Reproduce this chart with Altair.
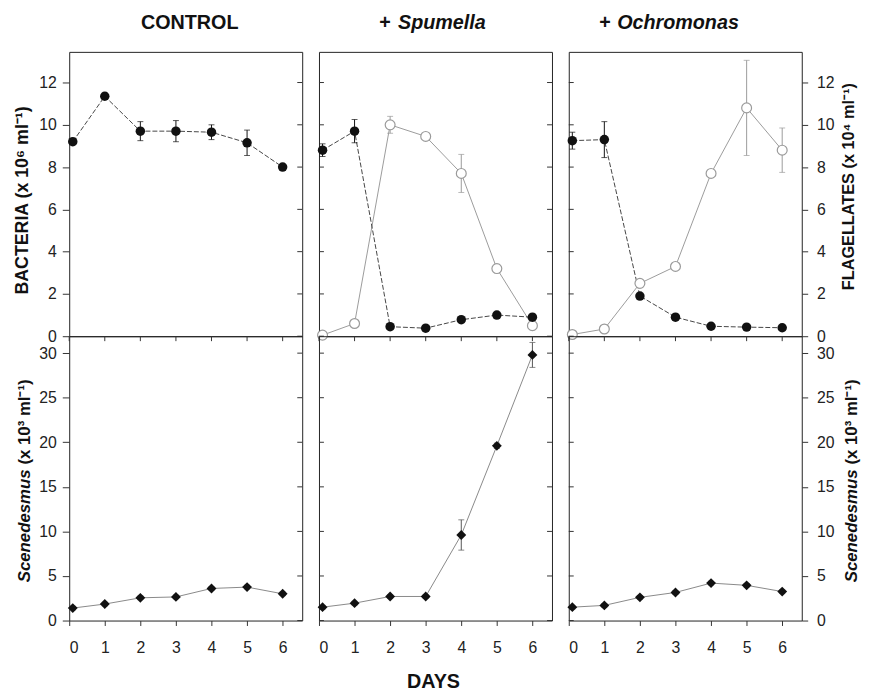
import altair as alt
import pandas as pd

# ---------------- data ----------------
days = [0.1, 1, 2, 3, 4, 5, 6]
day_ticks = [0, 1, 2, 3, 4, 5, 6]
top_ticks = [0, 2, 4, 6, 8, 10, 12]
bottom_ticks = [0, 5, 10, 15, 20, 25, 30]

panel_plus = ["", "+", "+"]
panel_names = ["CONTROL", "Spumella", "Ochromonas"]

bact_control = [9.2, 11.35, 9.7, 9.7, 9.65, 9.15, 8.0]
bact_control_sd = [0.1, 0.15, 0.45, 0.5, 0.35, 0.6, 0.1]
bact_spumella = [8.8, 9.7, 0.45, 0.38, 0.78, 1.0, 0.9]
bact_spumella_sd = [0.3, 0.55, 0.05, 0.05, 0.05, 0.05, 0.05]
bact_ochromonas = [9.25, 9.3, 1.9, 0.9, 0.47, 0.43, 0.4]
bact_ochromonas_sd = [0.4, 0.85, 0.05, 0.05, 0.05, 0.05, 0.05]

flag_spumella = [0.05, 0.6, 10.0, 9.45, 7.7, 3.2, 0.5]
flag_spumella_sd = [0.02, 0.1, 0.4, 0.15, 0.9, 0.2, 0.2]
flag_ochromonas = [0.08, 0.34, 2.5, 3.3, 7.7, 10.8, 8.8]
flag_ochromonas_sd = [0.02, 0.1, 0.15, 0.15, 0.15, 2.25, 1.05]

scen_control = [1.4, 1.85, 2.55, 2.65, 3.6, 3.75, 3.0]
scen_control_sd = [0.2, 0.2, 0.2, 0.2, 0.2, 0.2, 0.2]
scen_spumella = [1.5, 1.95, 2.7, 2.7, 9.6, 19.6, 29.8]
scen_spumella_sd = [0.2, 0.2, 0.2, 0.2, 1.7, 0.3, 1.4]
scen_ochromonas = [1.5, 1.7, 2.6, 3.15, 4.2, 3.95, 3.25]
scen_ochromonas_sd = [0.2, 0.2, 0.2, 0.2, 0.2, 0.2, 0.2]

bact_title = "BACTERIA (x 10\u2076 ml\u207b\u00b9)"
flag_title = "FLAGELLATES (x 10\u2074 ml\u207b\u00b9)"
scen_italic = "Scenedesmus"
scen_unit = "(x 10\u00b3 ml\u207b\u00b9)"
x_title = "DAYS"

# ---------------- layout ----------------
W = 236
H_TOP = 288
H_BOT = 288
TOP_DOM = [0, 13.45]
BOT_DOM = [0, 31.9]
X_DOM = [0, 6.55]
FONT = "Liberation Sans"
DARK = "#111111"
GREY = "#9a9a9a"


def frame(vals, sd):
    return pd.DataFrame({
        "day": days,
        "value": vals,
        "lo": [v - s for v, s in zip(vals, sd)],
        "hi": [v + s for v, s in zip(vals, sd)],
    })


def xenc(field, axis):
    return alt.X(f"{field}:Q", scale=alt.Scale(domain=X_DOM, nice=False, zero=False), axis=axis)


def yenc(field, dom, axis):
    return alt.Y(f"{field}:Q", scale=alt.Scale(domain=dom, nice=False, zero=False), axis=axis)


def series(df, dom, yaxis, xaxis, kind):
    base = alt.Chart(df)
    if kind == "bact":
        line = base.mark_line(color="#444444", strokeWidth=1, strokeDash=[5, 2])
        pt = base.mark_point(shape="circle", filled=True, color=DARK, size=92, opacity=1)
        ecol = DARK
    elif kind == "flag":
        line = base.mark_line(color=GREY, strokeWidth=1)
        pt = base.mark_point(shape="circle", fill="white", fillOpacity=1, stroke=GREY,
                             strokeWidth=1.2, size=100, opacity=1)
        ecol = GREY
    else:
        line = base.mark_line(color="#888888", strokeWidth=1)
        pt = base.mark_point(shape="diamond", filled=True, color=DARK, size=100, opacity=1)
        ecol = "#555555"
    line = line.encode(x=xenc("day", xaxis), y=yenc("value", dom, yaxis))
    err = base.mark_rule(color=ecol, strokeWidth=1).encode(
        x=xenc("day", xaxis), y=yenc("lo", dom, yaxis), y2="hi:Q")
    cap_lo = base.mark_tick(orient="horizontal", color=ecol, size=6, thickness=1).encode(
        x=xenc("day", xaxis), y=yenc("lo", dom, yaxis))
    cap_hi = base.mark_tick(orient="horizontal", color=ecol, size=6, thickness=1).encode(
        x=xenc("day", xaxis), y=yenc("hi", dom, yaxis))
    pt = pt.encode(x=xenc("day", xaxis), y=yenc("value", dom, yaxis))
    return [line], [err, cap_lo, cap_hi], [pt]


def inner_y_ticks(vals, dom, yaxis, side):
    df = pd.DataFrame({"t": vals})
    if side == "right":
        xs = dict(x=alt.value(W - 5), x2=alt.value(W))
    else:
        xs = dict(x=alt.value(0), x2=alt.value(5))
    return alt.Chart(df).mark_rule(color="#333333", strokeWidth=1).encode(
        y=yenc("t", dom, yaxis), **xs)


def inner_x_ticks(xaxis):
    df = pd.DataFrame({"t": day_ticks})
    return alt.Chart(df).mark_rule(color="#333333", strokeWidth=1).encode(
        x=xenc("t", xaxis), y=alt.value(0), y2=alt.value(5))


def title_marks(i):
    out = []
    ty = -23
    if i == 0:
        out.append(alt.Chart(pd.DataFrame({"t": [panel_names[0]]})).mark_text(
            font=FONT, fontSize=20, fontWeight="bold", color=DARK, align="center",
            baseline="alphabetic").encode(text="t:N", x=alt.value(W / 2 + 4), y=alt.value(ty)))
    else:
        plus_x = [0, 61, 31][i]
        name_x = [0, 80, 49][i]
        out.append(alt.Chart(pd.DataFrame({"t": [panel_plus[i]]})).mark_text(
            font=FONT, fontSize=20, fontWeight="bold", color=DARK, align="left",
            baseline="alphabetic").encode(text="t:N", x=alt.value(plus_x), y=alt.value(ty)))
        out.append(alt.Chart(pd.DataFrame({"t": [panel_names[i]]})).mark_text(
            font=FONT, fontSize=20, fontWeight="bold", fontStyle="italic", color=DARK,
            align="left", baseline="alphabetic").encode(
                text="t:N", x=alt.value(name_x), y=alt.value(ty)))
    return out


def scen_title(xpos):
    a = alt.Chart(pd.DataFrame({"t": [scen_italic]})).mark_text(
        font=FONT, fontSize=17, fontWeight="bold", fontStyle="italic", color=DARK,
        angle=270, align="right", baseline="middle").encode(
            text="t:N", x=alt.value(xpos), y=alt.value(135))
    b = alt.Chart(pd.DataFrame({"t": [scen_unit]})).mark_text(
        font=FONT, fontSize=17, fontWeight="bold", color=DARK,
        angle=270, align="left", baseline="middle").encode(
            text="t:N", x=alt.value(xpos), y=alt.value(130))
    return [a, b]


axis_common = dict(grid=False, domain=False, tickColor="#333333", labelColor="#222222",
                   labelFont=FONT, labelFontSize=16)

top_axes = [
    alt.Axis(orient="left", values=top_ticks, tickSize=7, labelPadding=6, title=bact_title,
             titlePadding=7, titleFont=FONT, titleFontSize=18, titleFontWeight="bold",
             titleColor=DARK, titleY=150, **axis_common),
    None,
    alt.Axis(orient="right", values=top_ticks, tickSize=6, labelPadding=9, title=flag_title,
             titleAngle=270, titleBaseline="top", titlePadding=7, titleFont=FONT,
             titleFontSize=16.5, titleFontWeight="bold", titleColor=DARK, titleY=136,
             **axis_common),
]
bot_axes = [
    alt.Axis(orient="left", values=bottom_ticks, tickSize=7, labelPadding=6, title="",
             **axis_common),
    None,
    alt.Axis(orient="right", values=bottom_ticks, tickSize=6, labelPadding=9, title="",
             **axis_common),
]
bot_xaxis = alt.Axis(orient="bottom", values=day_ticks, tickSize=5, labelPadding=14, title="",
                     **axis_common)

top_data = [
    [("bact", bact_control, bact_control_sd)],
    [("flag", flag_spumella, flag_spumella_sd), ("bact", bact_spumella, bact_spumella_sd)],
    [("flag", flag_ochromonas, flag_ochromonas_sd), ("bact", bact_ochromonas, bact_ochromonas_sd)],
]
bot_data = [
    (scen_control, scen_control_sd),
    (scen_spumella, scen_spumella_sd),
    (scen_ochromonas, scen_ochromonas_sd),
]

panels = []
for i in range(3):
    ya = top_axes[i]
    lines, errs, pts = [], [], []
    for kind, vals, sd in top_data[i]:
        l, e, p = series(frame(vals, sd), TOP_DOM, ya, None, kind)
        lines += l
        errs += e
        pts += p
    extra = []
    if i < 2:
        extra.append(inner_y_ticks(top_ticks, TOP_DOM, ya, "right"))
    if i > 0:
        extra.append(inner_y_ticks(top_ticks, TOP_DOM, ya, "left"))
    layers = lines + errs + pts + extra + title_marks(i)
    panels.append(alt.layer(*layers).properties(width=W, height=H_TOP))

for i in range(3):
    ya = bot_axes[i]
    vals, sd = bot_data[i]
    l, e, p = series(frame(vals, sd), BOT_DOM, ya, bot_xaxis, "scen")
    extra = [inner_x_ticks(bot_xaxis)]
    if i < 2:
        extra.append(inner_y_ticks(bottom_ticks, BOT_DOM, ya, "right"))
    if i > 0:
        extra.append(inner_y_ticks(bottom_ticks, BOT_DOM, ya, "left"))
    if i == 0:
        extra += scen_title(-45)
    if i == 2:
        extra += scen_title(W + 51)
    if i == 1:
        extra.append(alt.Chart(pd.DataFrame({"t": [x_title]})).mark_text(
            font=FONT, fontSize=20, fontWeight="bold", color=DARK, align="center",
            baseline="alphabetic").encode(text="t:N", x=alt.value(W / 2 - 2),
                                          y=alt.value(H_BOT + 68)))
    layers = l + e + p + extra
    panels.append(alt.layer(*layers).properties(width=W, height=H_BOT))

chart = alt.concat(*panels, columns=3, spacing={"row": 0, "column": 17}, bounds="flush").properties(
    padding={"left": 5, "top": 0, "right": 0, "bottom": 0},
    background="white",
).configure_view(stroke="#222222", strokeWidth=1)

chart.save("out.html", embed_options={"renderer": "svg", "actions": False})
